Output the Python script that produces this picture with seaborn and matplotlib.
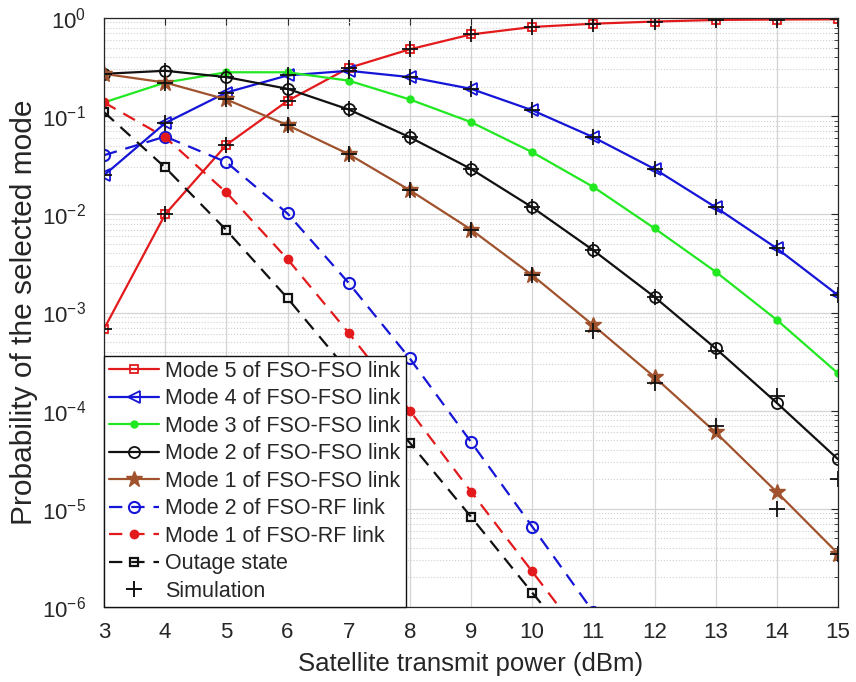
import numpy as np
import matplotlib
matplotlib.use("Agg")
import matplotlib.pyplot as plt
import seaborn as sns
from matplotlib.lines import Line2D

# Transmit power grid (dBm)
power = [3, 4, 5, 6, 7, 8, 9, 10, 11, 12, 13, 14, 15]

# Analytical mode-selection probabilities, FSO-FSO link
mode5_fso = [6.8e-4, 1.0e-2, 5.1e-2, 1.43e-1, 3.1e-1, 4.8e-1, 6.8e-1, 8.1e-1, 8.75e-1, 9.2e-1, 9.55e-1, 9.65e-1, 9.7e-1]
mode4_fso = [2.5e-2, 8.5e-2, 1.74e-1, 2.6e-1, 2.9e-1, 2.5e-1, 1.9e-1, 1.15e-1, 6.1e-2, 2.9e-2, 1.18e-2, 4.5e-3, 1.5e-3]
mode3_fso = [1.38e-1, 2.2e-1, 2.8e-1, 2.8e-1, 2.3e-1, 1.48e-1, 8.7e-2, 4.3e-2, 1.9e-2, 7.2e-3, 2.6e-3, 8.4e-4, 2.4e-4]
mode2_fso = [2.7e-1, 2.9e-1, 2.5e-1, 1.9e-1, 1.17e-1, 6.1e-2, 2.9e-2, 1.18e-2, 4.3e-3, 1.44e-3, 4.3e-4, 1.2e-4, 3.2e-5]
mode1_fso = [2.7e-1, 2.2e-1, 1.48e-1, 8.1e-2, 4.1e-2, 1.76e-2, 7.0e-3, 2.4e-3, 7.4e-4, 2.2e-4, 6.0e-5, 1.48e-5, 3.5e-6]

# Analytical probabilities, FSO-RF link and outage (powers 3..11 dBm)
power_rf = [3, 4, 5, 6, 7, 8, 9, 10, 11]
mode2_rf = [4.0e-2, 6.2e-2, 3.4e-2, 1.02e-2, 2.0e-3, 3.4e-4, 4.8e-5, 6.6e-6, 8.9e-7]
mode1_rf = [1.38e-1, 6.1e-2, 1.67e-2, 3.5e-3, 6.2e-4, 1.0e-4, 1.5e-5, 2.3e-6, 3.5e-7]
outage = [1.1e-1, 3.0e-2, 6.9e-3, 1.4e-3, 2.5e-4, 4.7e-5, 8.3e-6, 1.4e-6, 2.5e-7]

# Monte-Carlo simulation results for the FSO-FSO modes
sim5 = mode5_fso
sim4 = mode4_fso
sim2 = [2.7e-1, 2.9e-1, 2.5e-1, 1.9e-1, 1.17e-1, 6.1e-2, 2.9e-2, 1.18e-2, 4.3e-3, 1.44e-3, 4.1e-4, 1.4e-4, 2.0e-5]
sim1 = [2.7e-1, 2.2e-1, 1.48e-1, 8.1e-2, 4.1e-2, 1.76e-2, 7.0e-3, 2.4e-3, 6.5e-4, 1.9e-4, 7.0e-5, 1.0e-5, 3.5e-6]

labels = ["Mode 5 of FSO-FSO link", "Mode 4 of FSO-FSO link", "Mode 3 of FSO-FSO link",
          "Mode 2 of FSO-FSO link", "Mode 1 of FSO-FSO link", "Mode 2 of FSO-RF link",
          "Mode 1 of FSO-RF link", "Outage state", "Simulation"]

RED = "#e31a1c"
BLUE = "#1515d8"
GREEN = "#22e822"
BROWN = "#a0522d"
BLACK = "#111111"
DASH = (6, 4)

sns.set_style("white")
plt.rcParams["font.family"] = ["Liberation Sans", "DejaVu Sans"]
plt.rcParams["mathtext.fontset"] = "custom"
plt.rcParams["mathtext.rm"] = "Liberation Sans"

fig = plt.figure(figsize=(8.56, 6.82), dpi=100)
ax = fig.add_axes([104 / 856, 1 - 607 / 682, (838 - 104) / 856, (607 - 18) / 682])

styles = [
    (power, mode5_fso, RED, "s", dict(ms=6, mfc="none", mew=1.3), "-"),
    (power, mode4_fso, BLUE, "<", dict(ms=8, mfc="none", mew=1.3), "-"),
    (power, mode3_fso, GREEN, "o", dict(ms=5, mfc=GREEN, mew=1.0), "-"),
    (power, mode2_fso, BLACK, "o", dict(ms=8, mfc="none", mew=1.3), "-"),
    (power, mode1_fso, BROWN, "*", dict(ms=12, mfc=BROWN, mew=1.0), "-"),
    (power_rf, mode2_rf, BLUE, "o", dict(ms=8, mfc="none", mew=1.5), "--"),
    (power_rf, mode1_rf, RED, "o", dict(ms=6, mfc=RED, mew=1.0), "--"),
    (power_rf, outage, BLACK, "s", dict(ms=6, mfc="none", mew=1.6), "--"),
]

handles = []
for x, y, c, m, mk, ls in styles:
    extra = dict(dashes=DASH) if ls == "--" else dict(linestyle="-")
    sns.lineplot(x=x, y=y, ax=ax, color=c, marker=m, linewidth=1.6,
                 mec=c, estimator=None, sort=False, **extra, **mk)
    h = Line2D([], [], color=c, marker=m, linewidth=1.6, mec=c, **mk)
    if ls == "--":
        h.set_dashes(DASH)
    handles.append(h)

# Simulation points
for ys in (sim5, sim4, sim2, sim1):
    ax.plot(power, ys, linestyle="none", marker="+", color=BLACK, ms=12, mew=1.3)
handles.append(Line2D([], [], linestyle="none", marker="+", color=BLACK, ms=11, mew=1.4))

ax.set_yscale("log")
ax.set_xlim(3, 15)
ax.set_ylim(1e-6, 1)
ax.set_xticks(power)
ax.set_yticks([1e-6, 1e-5, 1e-4, 1e-3, 1e-2, 1e-1, 1])
ax.set_yticklabels([r"$10^{-6}$", r"$10^{-5}$", r"$10^{-4}$", r"$10^{-3}$",
                    r"$10^{-2}$", r"$10^{-1}$", r"$10^{0}$"])
ax.tick_params(which="both", direction="in", top=True, right=True, labelsize=16,
               colors="#262626")
ax.tick_params(axis="x", pad=11)
ax.tick_params(axis="y", pad=13)
ax.tick_params(which="major", length=5)
ax.tick_params(which="minor", length=3)
ax.grid(True, which="major", color="#d4d4d4", linewidth=0.9, linestyle="-")
ax.yaxis.grid(True, which="minor", color="#d0d0d0", linewidth=0.8, linestyle=":")
ax.set_axisbelow(True)
for s in ax.spines.values():
    s.set_color("#262626")
    s.set_linewidth(0.9)

ax.set_xlabel("Satellite transmit power (dBm)", fontsize=18.5, color="#262626", labelpad=6)
ax.set_ylabel("Probability of the selected mode", fontsize=21.5, color="#262626", labelpad=3)

leg = ax.legend(handles, labels, loc="lower left", borderaxespad=0, fontsize=15.5,
                frameon=True, fancybox=False, edgecolor="#111111", framealpha=1,
                handlelength=2.3, handletextpad=0.3, labelspacing=0.3, borderpad=0.25)
leg.get_frame().set_linewidth(1.0)

fig.savefig("out.png", dpi=100)
